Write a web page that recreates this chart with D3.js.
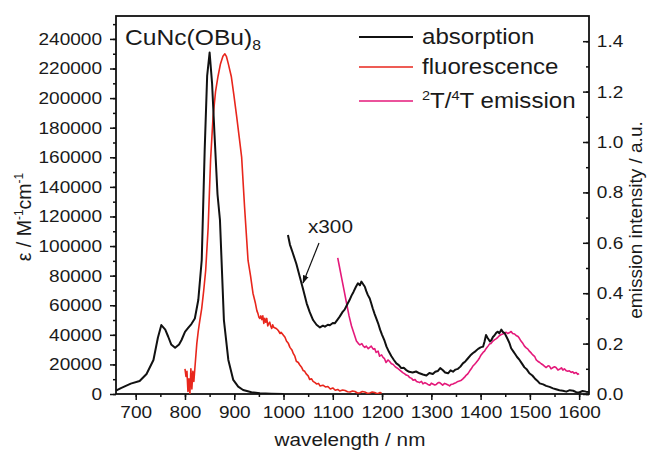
<!DOCTYPE html>
<html><head><meta charset="utf-8">
<script src="https://cdn.jsdelivr.net/npm/d3@7"></script>
<style>body{margin:0;background:#fff}svg{display:block}text{font-family:"Liberation Sans",Arial,sans-serif;fill:#1a1a1a}</style>
</head><body>
<svg id="c" width="648" height="453"></svg>
<script>
// absorption: wavelength (nm), epsilon (M^-1 cm^-1)
const absWl  = [660,670,690,708,722,736,745,752,760,766,772,780,788,793,800,806,813,820,827,834,840,845,850,855,860,866,871,879,888,898,908,918,935,952,975,1000];
const absEps = [2200,4000,7000,8800,13500,23000,38000,46600,43500,38700,33500,31300,33500,36500,42000,44500,47300,51000,63500,90600,165000,215000,230800,210000,175000,135000,117600,50000,23000,9500,5000,2700,1200,500,200,0];
// absorption x300 (displayed on epsilon axis)
const absX300Wl  = [1009,1013,1019,1026,1033,1040,1047,1053,1060,1067,1074,1080,1084,1090,1094,1100,1104,1110,1114,1120,1124,1130,1134,1138,1142,1147,1151,1155,1158,1162,1165,1168,1171,1175,1178,1181,1185,1189,1192,1196,1200,1205,1209,1214,1219,1224,1229,1234,1239,1244,1249,1255,1262,1269,1276,1283,1290,1296,1303,1308,1313,1318,1323,1328,1334,1339,1344,1349,1354,1359,1364,1369,1374,1379,1384,1390,1395,1400,1405,1408,1411,1414,1416,1419,1422,1425,1428,1432,1435,1438,1442,1445,1449,1452,1455,1459,1462,1466,1470,1474,1479,1484,1489,1494,1499,1505,1510,1515,1520,1527,1533,1540,1547,1553,1560,1567,1574,1581,1588,1594,1600,1607,1614,1620];
const absX300Eps = [107500,101000,95100,88000,79300,70500,61300,55500,50000,46800,45000,46200,45500,46800,46500,48000,47800,50500,52300,55500,57000,61000,63500,66500,69000,72500,74800,73500,76000,74000,72500,69500,67000,64500,61300,58000,54000,50500,47800,43500,40000,36000,32000,28500,25500,23000,20700,19500,17500,17800,16200,15000,14500,15200,14000,13200,12500,14200,13500,15000,15500,17500,16200,14500,14000,16000,15100,16500,17000,18500,20700,22000,24000,26000,27500,29000,30500,31500,32000,35500,39900,38000,37000,35500,36500,38500,39500,41500,42100,41000,43500,42000,41000,39000,37000,34000,30900,29000,27000,25000,23000,20500,18000,16500,14000,12500,10500,9000,7200,6500,5500,4800,3800,3200,2500,2200,1600,2600,2200,1200,1000,2000,1600,1400];
// fluorescence: wavelength, intensity (a.u.)
const fluWl  = [800,802,804,806,808,810,812,814,816,818,820,824,827,830,834,838,842,847,852,857,862,867,872,877,881,884,888,894,899,905,910,915,921,925,928,933,938,943,946,948,950,952,954,956,958,960,962,964,966,968,970,972,974,976,978,980,983,985,988,990,993,995,999,1003,1006,1010,1013,1017,1020,1023,1026,1030,1033,1037,1040,1043,1046,1050,1053,1057,1060,1064,1067,1071,1074,1080,1085,1090,1095,1100,1105,1110,1114,1120,1125,1130,1135,1140,1145,1150,1155,1160,1165,1170,1175,1180,1185,1189,1192,1196,1199];
const fluInt = [0.10,0.07,0.09,0.01,0.06,0.0,0.10,0.02,0.09,0.05,0.10,0.20,0.25,0.29,0.34,0.41,0.49,0.66,0.93,1.10,1.20,1.26,1.31,1.34,1.35,1.34,1.31,1.26,1.19,1.10,1.02,0.94,0.74,0.62,0.53,0.47,0.40,0.36,0.33,0.32,0.305,0.30,0.31,0.295,0.31,0.28,0.30,0.285,0.30,0.27,0.28,0.285,0.27,0.26,0.275,0.265,0.262,0.26,0.255,0.25,0.24,0.245,0.235,0.225,0.21,0.2,0.185,0.175,0.16,0.15,0.13,0.125,0.115,0.105,0.093,0.09,0.08,0.072,0.058,0.06,0.05,0.045,0.04,0.042,0.032,0.035,0.028,0.03,0.02,0.024,0.015,0.018,0.012,0.016,0.014,0.009,0.008,0.012,0.01,0.004,0.005,0.01,0.008,0.003,0.004,0.008,0.006,0.002,0.002,0.006,0.003];
// 2T/4T emission: wavelength, intensity (a.u.)
const emiWl  = [1110,1114,1118,1123,1128,1133,1138,1143,1148,1152,1155,1159,1162,1165,1168,1172,1175,1178,1182,1185,1188,1192,1195,1199,1202,1205,1208,1212,1215,1219,1222,1226,1229,1233,1236,1239,1242,1246,1249,1253,1256,1260,1263,1267,1270,1273,1276,1280,1283,1287,1290,1293,1297,1300,1303,1307,1310,1314,1317,1320,1323,1327,1330,1334,1337,1340,1344,1347,1350,1354,1357,1361,1364,1368,1371,1374,1378,1381,1384,1388,1391,1395,1398,1401,1405,1408,1411,1415,1418,1421,1425,1428,1432,1435,1438,1442,1445,1448,1452,1455,1459,1462,1465,1469,1472,1476,1479,1482,1486,1489,1492,1496,1499,1503,1506,1510,1513,1516,1520,1523,1527,1530,1533,1537,1540,1543,1547,1550,1553,1557,1560,1564,1567,1570,1574,1577,1580,1584,1587,1590,1594,1597,1600];
const emiInt = [0.54,0.50,0.46,0.41,0.36,0.31,0.27,0.24,0.21,0.20,0.195,0.2,0.19,0.185,0.19,0.18,0.185,0.19,0.178,0.18,0.165,0.17,0.15,0.155,0.145,0.14,0.125,0.135,0.13,0.12,0.118,0.11,0.105,0.1,0.095,0.09,0.085,0.08,0.075,0.072,0.065,0.062,0.055,0.057,0.05,0.048,0.045,0.05,0.04,0.045,0.042,0.038,0.035,0.043,0.04,0.036,0.038,0.045,0.045,0.04,0.035,0.042,0.04,0.036,0.032,0.038,0.04,0.043,0.045,0.05,0.052,0.055,0.06,0.068,0.075,0.08,0.092,0.1,0.11,0.118,0.125,0.135,0.144,0.155,0.165,0.17,0.18,0.19,0.198,0.2,0.21,0.215,0.22,0.225,0.231,0.236,0.238,0.242,0.245,0.24,0.244,0.248,0.24,0.238,0.232,0.228,0.22,0.21,0.2,0.19,0.184,0.178,0.17,0.162,0.155,0.148,0.135,0.13,0.125,0.12,0.115,0.11,0.105,0.112,0.11,0.1,0.105,0.108,0.105,0.095,0.098,0.104,0.095,0.1,0.092,0.09,0.092,0.086,0.088,0.082,0.085,0.078,0.08];

const xTicks = [700,800,900,1000,1100,1200,1300,1400,1500,1600];
const leftTicks = [0,20000,40000,60000,80000,100000,120000,140000,160000,180000,200000,220000,240000];
const rightTicks = [0.0,0.2,0.4,0.6,0.8,1.0,1.2,1.4];
const legendLabels = ["absorption","fluorescence","emission"];

const SX = 1.12; // horizontal stretch of the original raster text
const svg = d3.select("#c");
const L=116,R=589,T=16,B=394;
const x = d3.scaleLinear().domain([660,1620]).range([L,R]);
const yL = d3.scaleLinear().domain([0,255500]).range([B,T]);
const yR = d3.scaleLinear().domain([0,1.5]).range([B,T]);
const colAbs="#111", colFlu="#e8261c", colEmi="#e4197a";

function htext(px,py,size,anchor){
  return svg.append("g").attr("transform",`translate(${px},${py}) scale(${SX},1)`)
    .append("text").attr("text-anchor",anchor||"start").style("font-size",size+"px");
}

// axes
const fs=17;
function styleAxis(g){g.select(".domain").remove();g.selectAll("line").attr("stroke","#111").attr("stroke-width",1.5);g.selectAll("text").style("font-size",fs+"px").attr("fill","#1a1a1a");}
const xMinor = d3.range(650,1651,50).filter(v=>v>=660&&v<=1620);
svg.append("g").attr("transform",`translate(0,${B})`).call(d3.axisBottom(x).tickValues(xMinor).tickSize(3).tickFormat("")).call(styleAxis);
svg.append("g").attr("transform",`translate(0,${B})`).call(d3.axisBottom(x).tickValues(xTicks).tickSize(6).tickPadding(6).tickFormat(d3.format("d"))).call(styleAxis)
  .selectAll("text").attr("transform",`scale(${SX},1)`);
svg.append("g").attr("transform",`translate(${L},0)`).call(d3.axisLeft(yL).tickValues(d3.range(0,255001,10000)).tickSize(3).tickFormat("")).call(styleAxis);
svg.append("g").attr("transform",`translate(${L},0)`).call(d3.axisLeft(yL).tickValues(leftTicks).tickSize(6).tickPadding(6.5).tickFormat(d3.format("d"))).call(styleAxis)
  .selectAll("text").attr("transform",`scale(${SX},1)`);
svg.append("g").attr("transform",`translate(${R},0)`).call(d3.axisRight(yR).tickValues(d3.range(0,15).map(i=>i/10)).tickSize(-3).tickFormat("")).call(styleAxis);
svg.append("g").attr("transform",`translate(${R},0)`).call(d3.axisRight(yR).tickValues(rightTicks).tickSize(-6).tickPadding(7).tickFormat(d3.format(".1f"))).call(styleAxis)
  .selectAll("text").attr("transform",`scale(${SX},1)`);
svg.append("rect").attr("x",L).attr("y",T).attr("width",R-L).attr("height",B-T).attr("fill","none").attr("stroke","#111").attr("stroke-width",1.8);

// lines
svg.append("clipPath").attr("id","pc").append("rect").attr("x",L).attr("y",T).attr("width",R-L).attr("height",B-T);
const plot = svg.append("g").attr("clip-path","url(#pc)");
function draw(xs,ys,ys2,col,w){
  const line=d3.line().x((d,i)=>x(xs[i])).y((d,i)=>ys2(ys[i]));
  plot.append("path").datum(xs).attr("d",line).attr("fill","none").attr("stroke",col).attr("stroke-width",w).attr("stroke-linejoin","round");
}
draw(fluWl,fluInt,yR,colFlu,1.6);
draw(absWl,absEps,yL,colAbs,2);
draw(emiWl,emiInt,yR,colEmi,1.6);
draw(absX300Wl,absX300Eps,yL,colAbs,2);

// annotation x300
htext(308,233,18.5).text("x300");
svg.append("defs").append("marker").attr("id","ar").attr("viewBox","0 0 10 10").attr("refX",9).attr("refY",5).attr("markerWidth",7).attr("markerHeight",7).attr("orient","auto")
  .append("path").attr("d","M0,1.5 L10,5 L0,8.5 Z").attr("fill","#111");
svg.append("line").attr("x1",319).attr("y1",243).attr("x2",303).attr("y2",283).attr("stroke","#111").attr("stroke-width",1.2).attr("marker-end","url(#ar)");

// title
const tt = htext(125,45,22);
tt.append("tspan").text("CuNc(OBu)");
tt.append("tspan").attr("dy",5).style("font-size","14px").text("8");

// legend
const legY=[37,67,101], legCol=[colAbs,colFlu,colEmi];
legY.forEach((yy,i)=>{
  svg.append("line").attr("x1",359).attr("x2",413).attr("y1",yy).attr("y2",yy).attr("stroke",legCol[i]).attr("stroke-width",i==0?2:1.5);
});
htext(422,44,21.5).text(legendLabels[0]);
htext(422,74,21.5).text(legendLabels[1]);
const le = htext(422,108,21.5);
le.append("tspan").attr("dy",-8).style("font-size","13px").text("2");
le.append("tspan").attr("dy",8).text("T/");
le.append("tspan").attr("dy",-8).style("font-size","13px").text("4");
le.append("tspan").attr("dy",8).text("T " + legendLabels[2]);

// axis titles
htext(350,446,18.5,"middle").text("wavelength / nm");
const lt = svg.append("text").attr("transform","translate(31,217) rotate(-90)").attr("text-anchor","middle").style("font-size","19.5px");
lt.append("tspan").text("ε / M");
lt.append("tspan").attr("dy",-8).style("font-size","12px").text("-1");
lt.append("tspan").attr("dy",8).text("cm");
lt.append("tspan").attr("dy",-8).style("font-size","12px").text("-1");
svg.append("text").attr("transform","translate(642,220) rotate(-90)").attr("text-anchor","middle").style("font-size","19px").text("emission intensity / a.u.");
</script>
</body></html>
